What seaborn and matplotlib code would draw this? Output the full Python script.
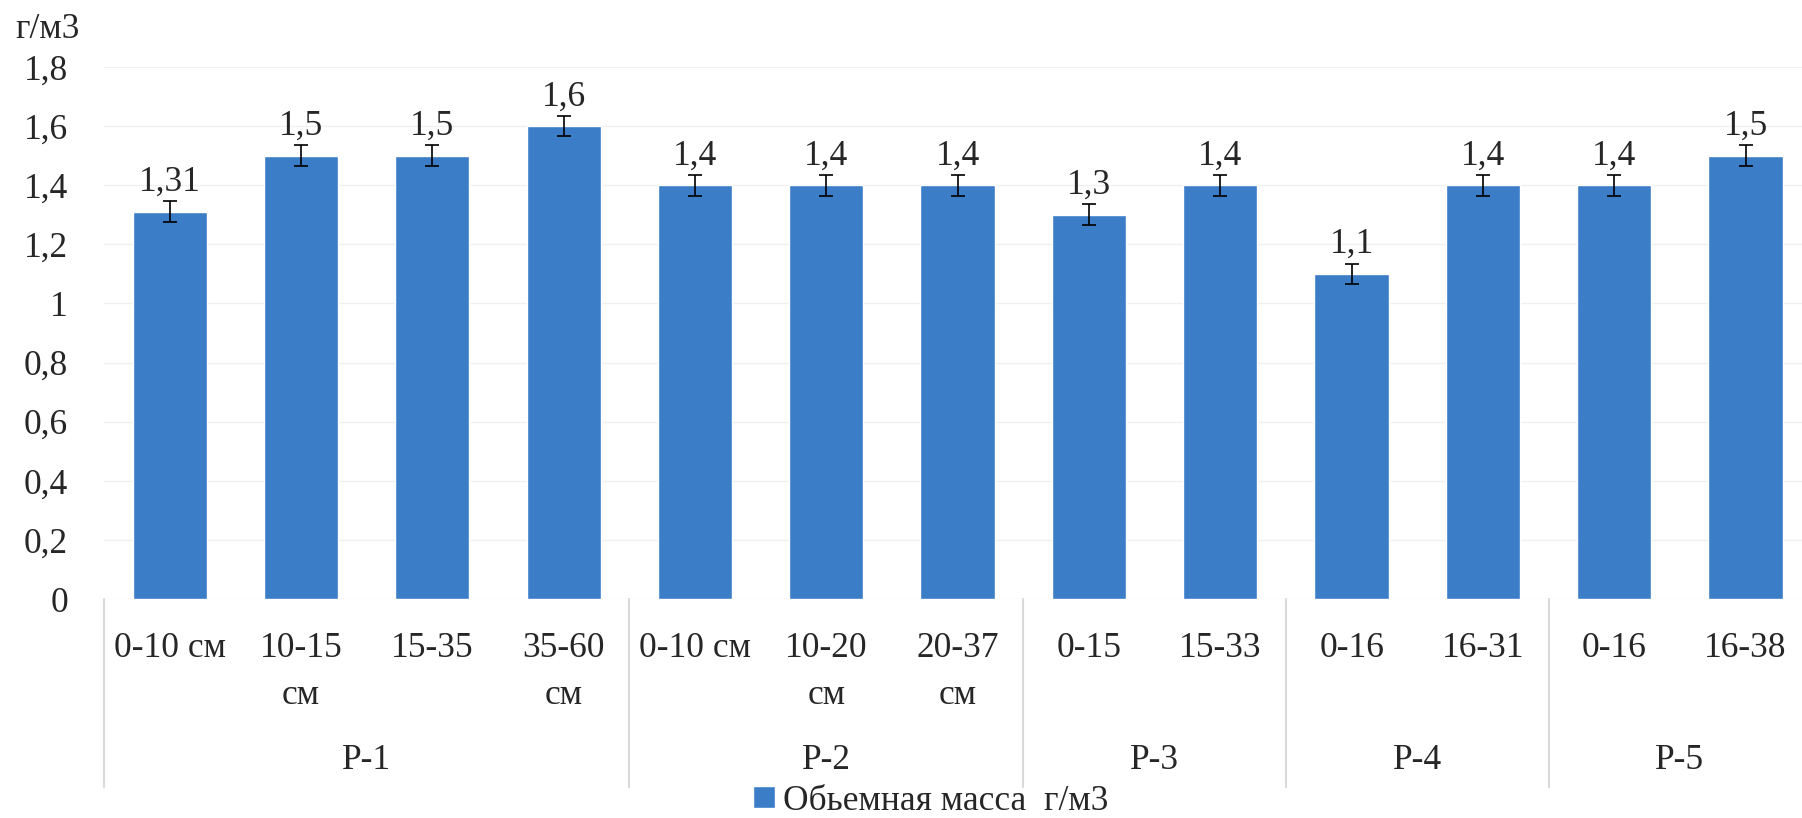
import pandas as pd
import numpy as np
import matplotlib.pyplot as plt
import seaborn as sns

sns.set_theme(style='white')
plt.rcParams['font.family'] = ['Liberation Serif', 'DejaVu Serif']

# данные
groups = ['Р-1', 'Р-1', 'Р-1', 'Р-1', 'Р-2', 'Р-2', 'Р-2', 'Р-3', 'Р-3', 'Р-4', 'Р-4', 'Р-5', 'Р-5']
depths = ['0-10 см', '10-15\nсм', '15-35', '35-60\nсм', '0-10 см', '10-20\nсм', '20-37\nсм',
          '0-15', '15-33', '0-16', '16-31', '0-16', '16-38']
values = [1.31, 1.5, 1.5, 1.6, 1.4, 1.4, 1.4, 1.3, 1.4, 1.1, 1.4, 1.4, 1.5]
errors = [0.035, 0.035, 0.035, 0.035, 0.035, 0.035, 0.035, 0.035, 0.035, 0.035, 0.035, 0.035, 0.035]
group_names = ['Р-1', 'Р-2', 'Р-3', 'Р-4', 'Р-5']
serie = 'Обьемная масса  г/м3'

df = pd.DataFrame({'grupo': groups, 'prof': depths, 'valor': values, 'err': errors})
df['key'] = df['grupo'] + '|' + df['prof']

fs = 25.5
fig = plt.figure(figsize=(18.02, 8.18), dpi=100)
ax = fig.add_axes([104 / 1802, 1 - 599 / 818, 1 - 104 / 1802, 532 / 818])

sns.barplot(data=df, x='key', y='valor', order=list(df['key']), color='#3c7dc8',
            saturation=1, width=0.565, label=serie, ax=ax, errorbar=None, zorder=2)

xs = np.arange(len(df))
ax.errorbar(xs, df['valor'], yerr=df['err'], fmt='none', ecolor='black',
            elinewidth=1.2, capsize=4.7, capthick=1.2, zorder=3)

for x, v in zip(xs, df['valor']):
    ax.annotate(f'{v:g}'.replace('.', ','), (x, v), xytext=(0, 15), textcoords='offset points',
                ha='center', va='baseline', fontsize=fs)

ax.set_ylim(0, 1.8)
ax.set_yticks(np.arange(0, 1.81, 0.2))
ax.set_yticklabels([f'{t:g}'.replace('.', ',') for t in np.arange(0, 1.81, 0.2)], fontsize=fs)
ax.set_xticks(xs)
ax.set_xticklabels(df['prof'], fontsize=fs, linespacing=1.55)
ax.set_xlim(-0.5, 12.43)
ax.tick_params(axis='x', length=0, pad=24)
ax.tick_params(axis='y', length=0, pad=26)
ax.set_xlabel('')
ax.set_ylabel('')
for s in ax.spines.values():
    s.set_visible(False)
ax.yaxis.grid(True, color='#f0f0f0', lw=1)
ax.set_axisbelow(True)

# separadores y nombres de grupos
trans = ax.get_xaxis_transform()
bounds = [-0.5]
for g in group_names:
    idx = df.index[df['grupo'] == g]
    bounds.append(idx.max() + 0.5)
    ax.text((idx.min() + idx.max()) / 2, -0.3045, g, transform=trans, ha='center', va='center',
            fontsize=fs, clip_on=False)
for b in bounds:
    ax.plot([b, b], [0, -0.353], transform=trans, color='#d9d9d9', lw=1.5, clip_on=False)

fig.text(48 / 1802, 1 - 30 / 818, 'г/м3', ha='center', va='center', fontsize=fs)

h, l = ax.get_legend_handles_labels()
ax.legend(h, l, loc='center', bbox_to_anchor=(931 / 1802, 1 - 801 / 818),
          bbox_transform=fig.transFigure, frameon=False, fontsize=fs,
          handlelength=0.6, handleheight=0.6, handletextpad=0.25, borderpad=0)

fig.savefig('out.png', dpi=100)
